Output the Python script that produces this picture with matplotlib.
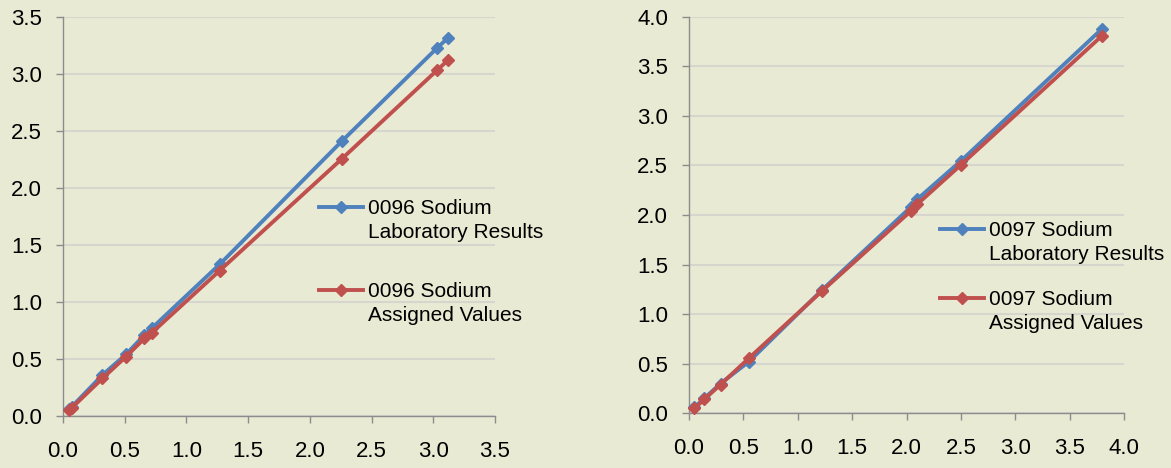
import matplotlib
matplotlib.use("Agg")
import matplotlib.pyplot as plt
from matplotlib.lines import Line2D

plt.rcParams['font.family'] = ['Liberation Sans', 'DejaVu Sans']

# ---- data: 0096 Sodium ----
x_0096 = [0.05, 0.07, 0.32, 0.51, 0.66, 0.72, 1.27, 2.26, 3.03, 3.12]
lab_0096 = [0.06, 0.08, 0.36, 0.54, 0.71, 0.77, 1.33, 2.41, 3.225, 3.315]
assigned_0096 = [0.05, 0.07, 0.33, 0.52, 0.68, 0.73, 1.275, 2.255, 3.03, 3.12]

# ---- data: 0097 Sodium ----
x_0097 = [0.05, 0.14, 0.29, 0.55, 1.22, 2.04, 2.10, 2.50, 3.80]
lab_0097 = [0.06, 0.15, 0.30, 0.52, 1.24, 2.08, 2.16, 2.545, 3.88]
assigned_0097 = [0.05, 0.14, 0.29, 0.555, 1.23, 2.04, 2.11, 2.505, 3.81]

ticks_0096 = [0.0, 0.5, 1.0, 1.5, 2.0, 2.5, 3.0, 3.5]
ticks_0097 = [0.0, 0.5, 1.0, 1.5, 2.0, 2.5, 3.0, 3.5, 4.0]

labels_0096 = ["0096 Sodium", "Laboratory Results", "0096 Sodium", "Assigned Values"]
labels_0097 = ["0097 Sodium", "Laboratory Results", "0097 Sodium", "Assigned Values"]

BG = '#E9EAD3'
BLUE = '#4F81BD'
RED = '#C0504D'
GRID = '#D6D6CF'
SPINE = '#8C8C8C'

W, H = 1171, 468
fig = plt.figure(figsize=(W / 100, H / 100), dpi=100, facecolor=BG)


def make_axes(rect, xs, ys_lab, ys_asg, ticks, labels, leg_pos):
    ax = fig.add_axes(rect)
    ax.set_facecolor(BG)
    l1, = ax.plot(xs, ys_lab, color=BLUE, lw=2.8, marker='D', ms=6.5,
                  markeredgecolor=BLUE, zorder=3)
    l2, = ax.plot(xs, ys_asg, color=RED, lw=2.8, marker='D', ms=6.5,
                  markeredgecolor=RED, zorder=4)
    ax.set_xlim(ticks[0], ticks[-1])
    ax.set_ylim(ticks[0], ticks[-1])
    ax.set_xticks(ticks)
    ax.set_yticks(ticks)
    ax.set_xticklabels([f"{t:.1f}" for t in ticks])
    ax.set_yticklabels([f"{t:.1f}" for t in ticks])
    for s in ['top', 'right']:
        ax.spines[s].set_visible(False)
    for s in ['left', 'bottom']:
        ax.spines[s].set_color(SPINE)
        ax.spines[s].set_linewidth(1.0)
    ax.yaxis.grid(True, color=GRID, lw=1.5)
    ax.set_axisbelow(True)
    ax.tick_params(axis='both', direction='out', length=5, width=1.0,
                   color=SPINE, labelsize=16, labelcolor='black')
    ax.tick_params(axis='y', pad=10)
    ax.tick_params(axis='x', pad=13)
    for ln in (l1, l2):
        ln.set_clip_on(False)

    blank = Line2D([], [], linestyle='none')
    common = dict(frameon=False, fontsize=15, handlelength=2.1,
                  handletextpad=0.25, borderpad=0, borderaxespad=0,
                  labelspacing=0.25, loc='upper left',
                  bbox_transform=fig.transFigure)
    (x1, y1), (x2, y2) = leg_pos
    leg1 = ax.legend([l1, blank], labels[0:2],
                     bbox_to_anchor=(x1 / W, 1 - y1 / H), **common)
    ax.add_artist(leg1)
    ax.legend([l2, blank], labels[2:4],
              bbox_to_anchor=(x2 / W, 1 - y2 / H), **common)
    return ax


make_axes([63 / W, 1 - 416 / H, (495 - 63) / W, (416 - 16.7) / H],
          x_0096, lab_0096, assigned_0096, ticks_0096, labels_0096,
          [(319, 199), (319, 282)])
make_axes([689 / W, 1 - 413.3 / H, (1124 - 689) / W, (413.3 - 16.7) / H],
          x_0097, lab_0097, assigned_0097, ticks_0097, labels_0097,
          [(940, 221), (940, 290)])

fig.savefig("out.png", dpi=100, facecolor=BG)
